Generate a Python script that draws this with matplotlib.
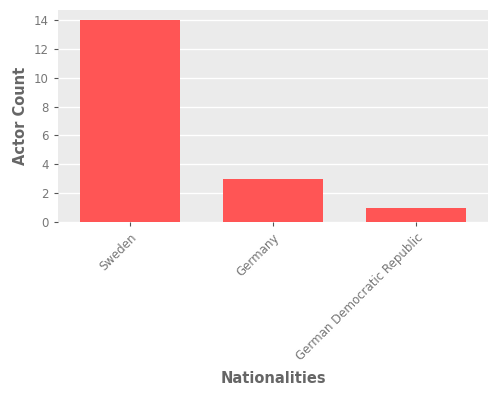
import matplotlib
matplotlib.use('Agg')
import matplotlib.pyplot as plt

nationalities = ['Sweden', 'Germany', 'German Democratic Republic']
actor_counts = [14, 3, 1]

fig = plt.figure(figsize=(5, 4), dpi=100)
ax = fig.add_axes([0.116, 0.445, 0.86, 0.53])
ax.set_facecolor('#EBEBEB')
ax.bar(nationalities, actor_counts, width=0.7, color='#FF5555', zorder=3)
ax.set_xlim(-0.5, 2.5)
ax.set_ylim(0, 14.7)
ax.set_yticks(range(0, 15, 2))
ax.grid(axis='y', color='white', linewidth=1, zorder=0)
for s in ax.spines.values():
    s.set_visible(False)
ax.tick_params(colors='#555555', labelcolor='#777777', labelsize=8.5, length=3)
plt.setp(ax.get_xticklabels(), rotation=45, ha='right', rotation_mode='anchor')
ax.set_xlabel('Nationalities', fontsize=10.5, color='#666666', labelpad=6,
              fontweight='bold')
ax.set_ylabel('Actor Count', fontsize=10.5, color='#666666', fontweight='bold')
fig.savefig('out.png', dpi=100)
